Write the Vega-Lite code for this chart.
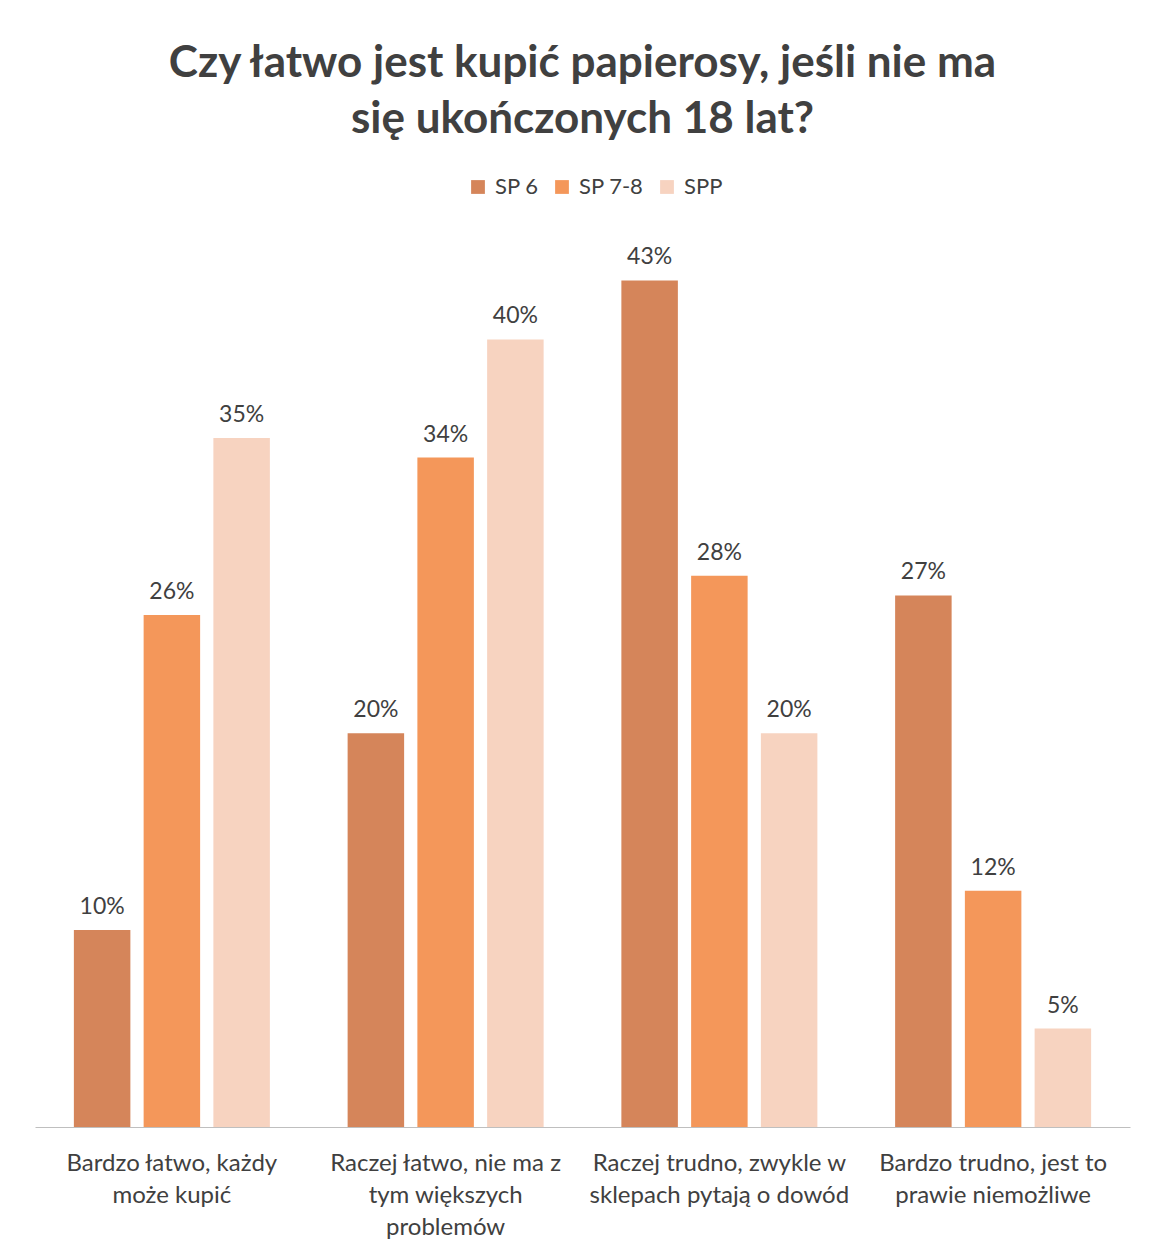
{
  "$schema": "https://vega.github.io/schema/vega-lite/v6.json",
  "width": 1095,
  "height": 886,
  "autosize": {"type": "none"},
  "padding": {"left": 35, "top": 241, "right": 35, "bottom": 126},
  "background": "white",
  "title": {
    "text": ["Czy łatwo jest kupić papierosy, jeśli nie ma", "się ukończonych 18 lat?"],
    "font": "Lato",
    "fontSize": 44,
    "fontWeight": "bold",
    "color": "#404040",
    "lineHeight": 56,
    "anchor": "middle",
    "offset": 34
  },
  "data": {
    "values": [
      {"kategoria": "Bardzo łatwo, każdy może kupić", "grupa": "SP 6", "wartosc": 0.10},
      {"kategoria": "Bardzo łatwo, każdy może kupić", "grupa": "SP 7-8", "wartosc": 0.26},
      {"kategoria": "Bardzo łatwo, każdy może kupić", "grupa": "SPP", "wartosc": 0.35},
      {"kategoria": "Raczej łatwo, nie ma z tym większych problemów", "grupa": "SP 6", "wartosc": 0.20},
      {"kategoria": "Raczej łatwo, nie ma z tym większych problemów", "grupa": "SP 7-8", "wartosc": 0.34},
      {"kategoria": "Raczej łatwo, nie ma z tym większych problemów", "grupa": "SPP", "wartosc": 0.40},
      {"kategoria": "Raczej trudno, zwykle w sklepach pytają o dowód", "grupa": "SP 6", "wartosc": 0.43},
      {"kategoria": "Raczej trudno, zwykle w sklepach pytają o dowód", "grupa": "SP 7-8", "wartosc": 0.28},
      {"kategoria": "Raczej trudno, zwykle w sklepach pytają o dowód", "grupa": "SPP", "wartosc": 0.20},
      {"kategoria": "Bardzo trudno, jest to prawie niemożliwe", "grupa": "SP 6", "wartosc": 0.27},
      {"kategoria": "Bardzo trudno, jest to prawie niemożliwe", "grupa": "SP 7-8", "wartosc": 0.12},
      {"kategoria": "Bardzo trudno, jest to prawie niemożliwe", "grupa": "SPP", "wartosc": 0.05}
    ]
  },
  "encoding": {
    "x": {
      "field": "kategoria",
      "type": "nominal",
      "sort": null,
      "scale": {"paddingInner": 0.284, "paddingOuter": 0.142},
      "axis": {
        "title": null,
        "labelAngle": 0,
        "labelFont": "Lato",
        "labelFontSize": 24,
        "labelColor": "#404040",
        "labelPadding": 24,
        "labelLineHeight": 32,
        "labelLimit": 0,
        "ticks": false,
        "domainColor": "#bfbfbf",
        "domainWidth": 1,
        "labelExpr": "datum.label == 'Bardzo łatwo, każdy może kupić' ? ['Bardzo łatwo, każdy', 'może kupić'] : datum.label == 'Raczej łatwo, nie ma z tym większych problemów' ? ['Raczej łatwo, nie ma z', 'tym większych', 'problemów'] : datum.label == 'Raczej trudno, zwykle w sklepach pytają o dowód' ? ['Raczej trudno, zwykle w', 'sklepach pytają o dowód'] : ['Bardzo trudno, jest to', 'prawie niemożliwe']"
      }
    },
    "xOffset": {
      "field": "grupa",
      "type": "nominal",
      "sort": ["SP 6", "SP 7-8", "SPP"],
      "scale": {"paddingInner": 0.19, "paddingOuter": 0}
    },
    "y": {
      "field": "wartosc",
      "type": "quantitative",
      "scale": {"domain": [0, 0.45]},
      "axis": null
    }
  },
  "layer": [
    {
      "mark": {"type": "bar"},
      "encoding": {
        "color": {
          "field": "grupa",
          "type": "nominal",
          "scale": {"domain": ["SP 6", "SP 7-8", "SPP"], "range": ["#d5855a", "#f4975a", "#f7d3c0"]},
          "legend": {
            "title": null,
            "orient": "none",
            "direction": "horizontal",
            "legendX": 432,
            "legendY": -65,
            "symbolType": "square",
            "symbolSize": 190,
            "symbolStrokeWidth": 0,
            "labelFont": "Lato",
            "labelFontSize": 22,
            "labelColor": "#404040",
            "columnPadding": 12,
            "labelOffset": 6
          }
        }
      }
    },
    {
      "mark": {"type": "text", "baseline": "bottom", "dy": -11, "font": "Lato", "fontSize": 23, "color": "#404040"},
      "encoding": {
        "text": {"field": "wartosc", "type": "quantitative", "format": ".0%"}
      }
    }
  ],
  "config": {"view": {"stroke": null}}
}
